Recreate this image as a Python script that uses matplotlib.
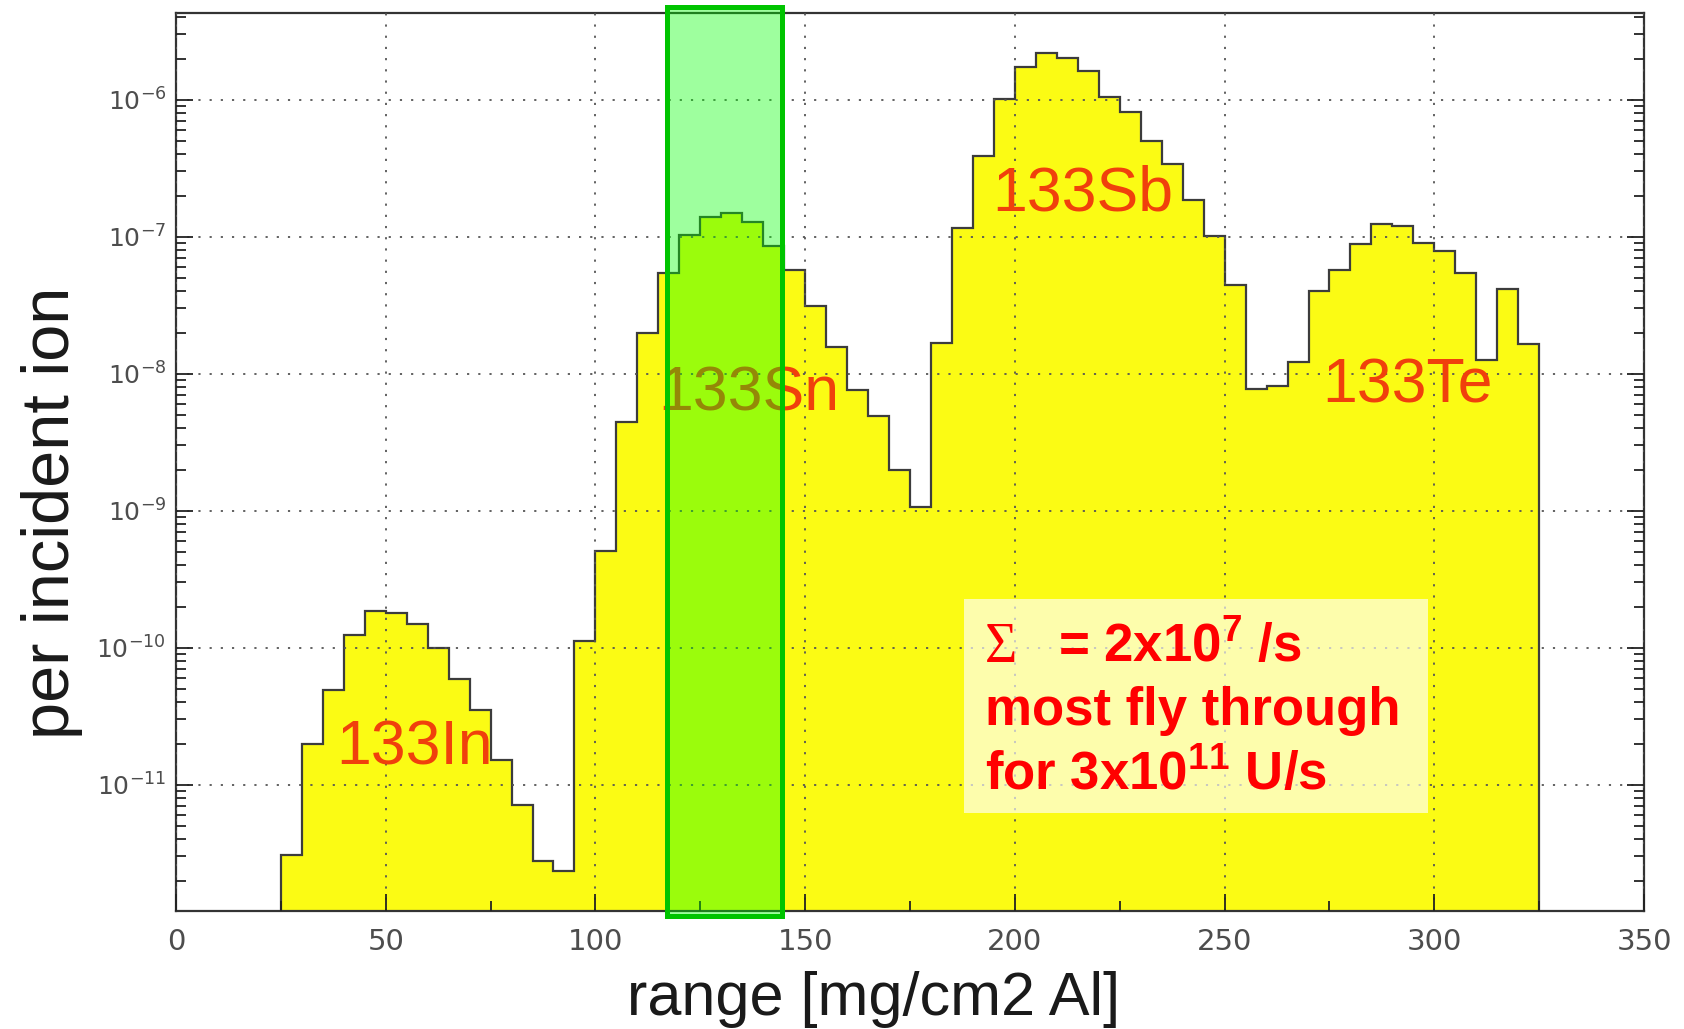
import matplotlib
matplotlib.use('Agg')
import matplotlib.pyplot as plt
import matplotlib.ticker as ticker
import matplotlib.transforms as mtransforms
from matplotlib.patches import Rectangle
import numpy as np

plt.rcParams['font.family'] = ['Liberation Sans', 'DejaVu Sans']
plt.rcParams['mathtext.default'] = 'regular'

# ── range histogram, 5 mg/cm2 bins from 25 to 325 ──
bin_edges = np.arange(25, 330, 5)
rate = [
    3.1e-12, 1.98e-11, 4.96e-11, 1.25e-10, 1.86e-10, 1.78e-10, 1.49e-10, 1.0e-10,
    5.9e-11, 3.5e-11, 1.52e-11, 7.1e-12, 2.8e-12, 2.35e-12, 1.12e-10, 5.07e-10,
    4.46e-9, 2.0e-8, 5.4e-8, 1.03e-7, 1.40e-7, 1.49e-7, 1.29e-7, 8.5e-8,
    5.7e-8, 3.1e-8, 1.58e-8, 7.6e-9, 4.9e-9, 2.0e-9, 1.06e-9, 1.69e-8,
    1.16e-7, 3.86e-7, 1.02e-6, 1.73e-6, 2.19e-6, 2.01e-6, 1.61e-6, 1.04e-6,
    8.1e-7, 4.97e-7, 3.42e-7, 1.84e-7, 1.02e-7, 4.41e-8, 7.8e-9, 8.2e-9,
    1.22e-8, 4.0e-8, 5.7e-8, 8.9e-8, 1.24e-7, 1.19e-7, 9.0e-8, 7.9e-8,
    5.4e-8, 1.26e-8, 4.13e-8, 1.64e-8,
]

# isotope names and where they sit (left edge, baseline)
isotopes = ['133In', '133Sn', '133Sb', '133Te']
iso_x = [38.3, 115.0, 194.5, 273.3]
iso_y = [1.40e-11, 5.4e-9, 1.55e-7, 6.2e-9]

# selected range window (Sn)
window = [117.0, 144.5]

x_ticks = [0, 50, 100, 150, 200, 250, 300, 350]
y_ticks = [1e-11, 1e-10, 1e-9, 1e-8, 1e-7, 1e-6]

fig = plt.figure(figsize=(16.84, 10.29), dpi=100)
ax = fig.add_axes([0.1045, 0.1147, 0.8718, 0.8727])

bottom = 1e-13
ax.stairs(rate, bin_edges, baseline=bottom, fill=True, color='#fbfb14', lw=0, zorder=1)
ax.stairs(rate, bin_edges, baseline=bottom, fill=False, color='#3c3c3c', lw=1.6, zorder=2)

ax.set_yscale('log')
ax.set_xlim(0, 350)
ax.set_ylim(1.2e-12, 4.3e-6)

ax.set_xticks(x_ticks)
ax.xaxis.set_minor_locator(ticker.MultipleLocator(25))
ax.set_yticks(y_ticks)
ax.yaxis.set_minor_locator(ticker.LogLocator(base=10, subs=np.arange(2, 10), numticks=20))
ax.yaxis.set_minor_formatter(ticker.NullFormatter())

ax.tick_params(axis='x', which='both', direction='in', top=False, pad=12,
               labelsize=21, labelcolor='#4d4d4d', width=1.3, color='#222222')
ax.tick_params(axis='x', which='major', length=12)
ax.tick_params(axis='x', which='minor', length=7)
ax.tick_params(axis='y', which='both', direction='in', left=True, right=True, pad=7,
               labelsize=18, labelcolor='#4d4d4d', width=1.3, color='#222222')
ax.tick_params(axis='y', which='major', length=12)
ax.tick_params(axis='y', which='minor', length=7)
for lab in ax.get_xticklabels() + ax.get_yticklabels():
    lab.set_family(['DejaVu Sans'])

for sp in ax.spines.values():
    sp.set_linewidth(1.6)
    sp.set_color('#333333')

# dotted grid drawn over the histogram fill
ax.set_axisbelow(False)
ax.grid(True, which='major', color='#555555', linestyle=(0, (1.2, 5)), linewidth=1.3)

for name, x, y in zip(isotopes, iso_x, iso_y):
    ax.text(x, y, name, fontsize=45, color='#f0400c', ha='left', va='baseline', zorder=3)

# green window spanning the full height
trans = mtransforms.blended_transform_factory(ax.transData, ax.transAxes)
ax.add_patch(Rectangle((window[0], -0.0056), window[1] - window[0], 1.0127,
                       transform=trans, facecolor=(0.0, 1.0, 0.0, 0.38),
                       edgecolor='#00c400', lw=3.6, clip_on=False, zorder=5))

# rate summary box
ax.add_patch(Rectangle((0.537, 0.109), 0.316, 0.238, transform=ax.transAxes,
                       facecolor='white', alpha=0.65, edgecolor='none', zorder=4))
ax.text(0.551, 0.277, 'Σ', transform=ax.transAxes, fontsize=40, color='#ff0000',
        family=['Liberation Serif', 'DejaVu Serif'], ha='left', va='baseline', zorder=6)
ax.text(0.601, 0.277, '= 2x10$^{7}$ /s', transform=ax.transAxes, fontsize=38,
        fontweight='bold', color='#ff0000', ha='left', va='baseline', zorder=6)
ax.text(0.551, 0.207, 'most fly through', transform=ax.transAxes, fontsize=38,
        fontweight='bold', color='#ff0000', ha='left', va='baseline', zorder=6)
ax.text(0.551, 0.135, 'for 3x10$^{11}$ U/s', transform=ax.transAxes, fontsize=38,
        fontweight='bold', color='#ff0000', ha='left', va='baseline', zorder=6)

fig.text(0.519, 0.0136, 'range [mg/cm2 Al]', fontsize=44, color='#1a1a1a',
         ha='center', va='baseline')
fig.text(0.041, 0.5015, 'per incident ion', fontsize=48, color='#1a1a1a',
         rotation=90, rotation_mode='anchor', ha='center', va='baseline')

fig.savefig('out.png', dpi=100, facecolor='white')
